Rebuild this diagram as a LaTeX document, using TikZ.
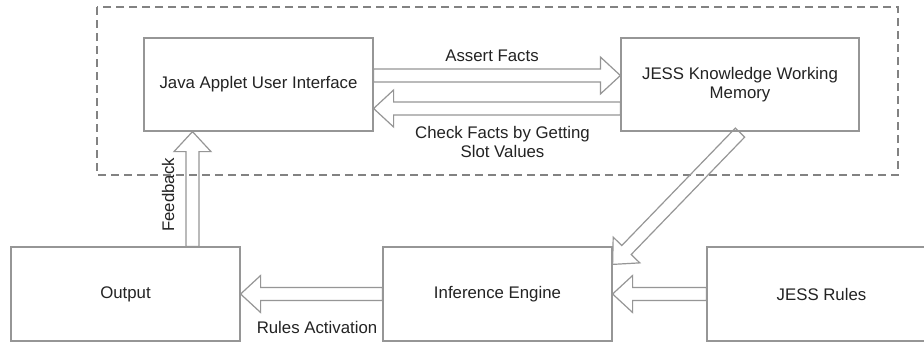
\documentclass[tikz,border=0pt]{standalone}
\usepackage{fontspec}
\setmainfont{Liberation Sans}
\usetikzlibrary{calc}
\definecolor{linegray}{RGB}{150,150,150}
\definecolor{dashgray}{RGB}{130,130,130}
\definecolor{txt}{RGB}{35,35,35}
\tikzset{
  box/.style={draw=linegray, line width=1.2pt, rectangle, inner sep=0pt, align=center, text=txt,
    font=\fontsize{16.8}{19.5}\selectfont},
  lbl/.style={text=txt, align=center, inner sep=0pt, font=\fontsize{16.8}{19}\selectfont},
  fat/.style={draw=linegray, line width=1.2pt, line join=miter},
  frame/.style={draw=dashgray, line width=1.1pt, dash pattern=on 8pt off 5pt}
}
% fat arrow from tail #1 to tip #2
\newcommand\fatarrow[2]{%
  \draw[fat]
    ($(#1)!6.5pt!90:(#2)$) --
    ($($(#2)!20pt!(#1)$)!6.5pt!-90:(#1)$) --
    ($($(#2)!20pt!(#1)$)!18.5pt!-90:(#1)$) --
    (#2) --
    ($($(#2)!20pt!(#1)$)!18.5pt!90:(#1)$) --
    ($($(#2)!20pt!(#1)$)!6.5pt!90:(#1)$) --
    ($(#1)!6.5pt!-90:(#2)$) -- cycle;}
\begin{document}
\begin{tikzpicture}[x=1pt,y=-1pt]
\useasboundingbox (0,0) rectangle (924,343);
\fill[white] (0,0) rectangle (924,343);
% dashed frame
\draw[frame] (97,7) rectangle (898,175);
% boxes
\node[box, minimum width=229pt, minimum height=93pt] (java) at (258.5,84.5) {Java Applet User Interface};
\node[box, minimum width=238pt, minimum height=93pt] (kwm) at (740,84.5) {JESS Knowledge Working\\Memory};
\node[box, minimum width=229pt, minimum height=94pt] (out) at (125.5,294) {Output};
\node[box, minimum width=229pt, minimum height=94pt] (inf) at (497.5,294) {Inference Engine};
\node[box, minimum width=229pt, minimum height=94pt] (rules) at (821.5,294) {JESS Rules};
% connector end points
\coordinate (a1) at ($(java.east)+(0,-9)$);
\coordinate (a2) at ($(kwm.west)+(0,-9)$);
\coordinate (c1) at ($(kwm.west)+(0,24)$);
\coordinate (c2) at ($(java.east)+(0,24)$);
\coordinate (d1) at ($(kwm.south)+(0,1)$);
\coordinate (d2) at ($(inf.north east)+(0,18)$);
\coordinate (f1) at ($(out.north)+(67,0)$);
\coordinate (f2) at ($(java.south)+(-66,0)$);
% arrows
\fatarrow{a1}{a2}
\fatarrow{c1}{c2}
\fatarrow{d1}{d2}
\fatarrow{rules.west}{inf.east}
\fatarrow{inf.west}{out.east}
\fatarrow{f1}{f2}
% labels
\node[lbl] (la) at (492,56) {Assert Facts};
\node[lbl] (lc) at (502.5,142) {Check Facts by Getting\\Slot Values};
\node[lbl] (lr) at (317,327) {Rules Activation};
\node[lbl, rotate=90] (lf) at (168,195) {Feedback};
\end{tikzpicture}
\end{document}
